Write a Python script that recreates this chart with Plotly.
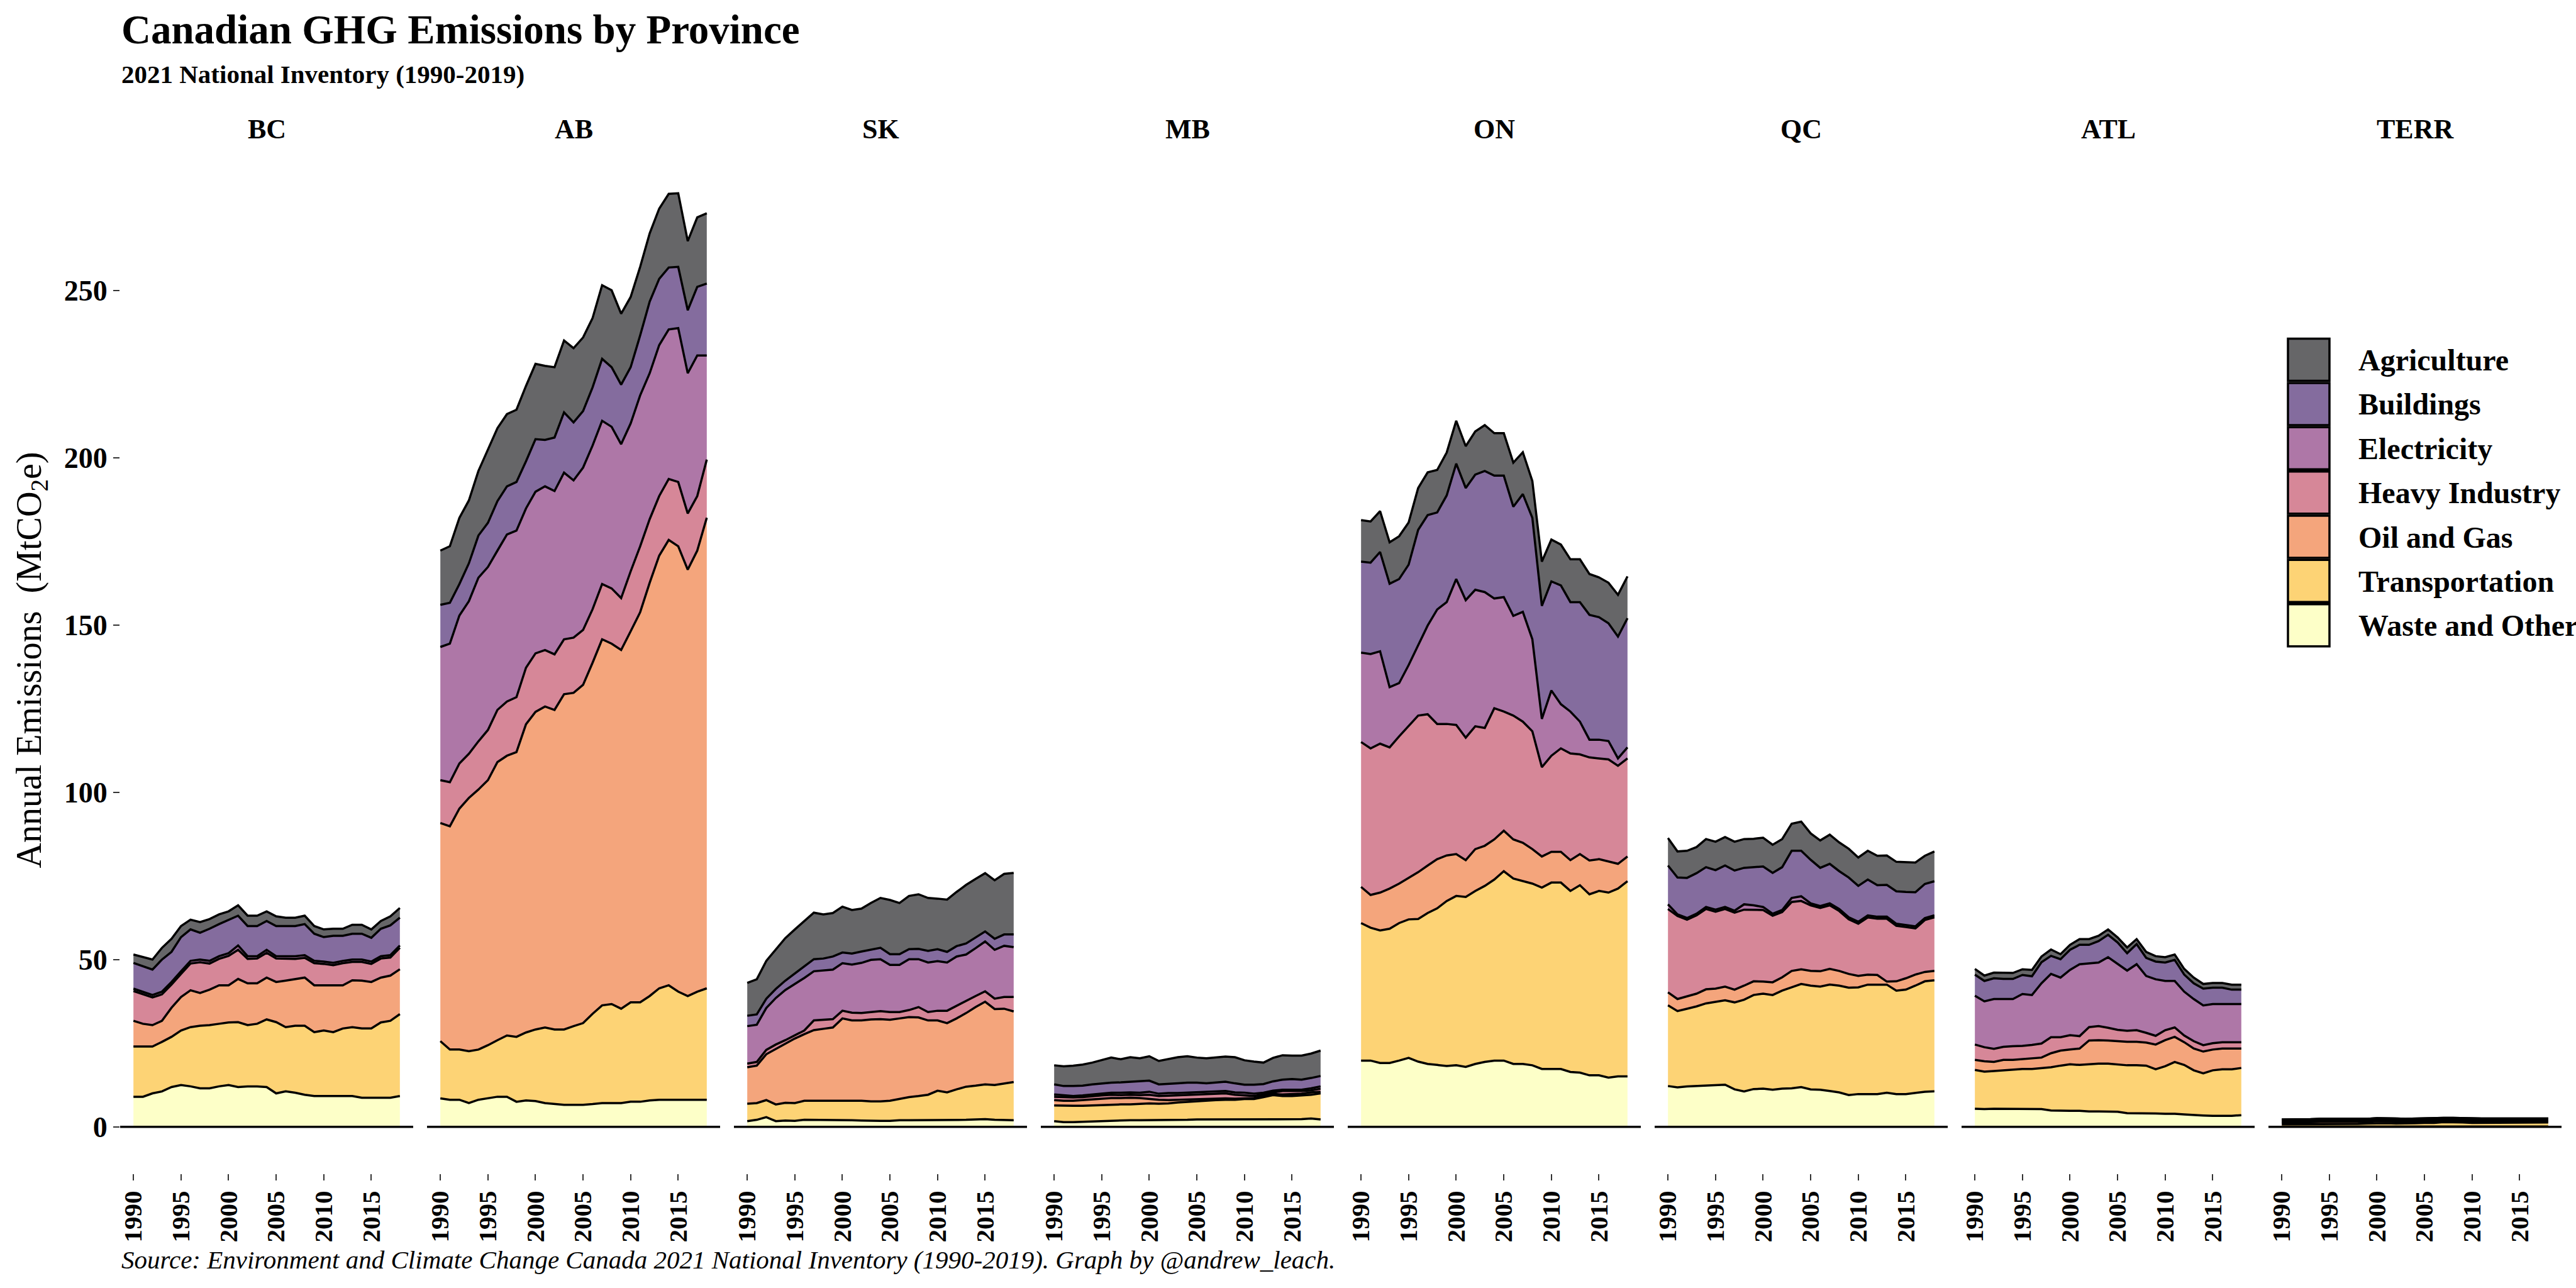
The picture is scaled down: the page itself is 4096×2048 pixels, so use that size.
import numpy as np
import plotly.graph_objects as go
from plotly.subplots import make_subplots

# ---------------- data (stack boundaries, Mt CO2e) ----------------
YEARS = list(range(1990, 2019))
PROVINCES = ["BC", "AB", "SK", "MB", "ON", "QC", "ATL", "TERR"]
SECTORS = ["Waste and Other", "Transportation", "Oil and Gas", "Heavy Industry",
           "Electricity", "Buildings", "Agriculture"]          # bottom -> top
COLORS = ["#FDFFC8", "#FDD375", "#F4A57C", "#D68798", "#AE77A7", "#846C9E", "#666668"]
LEGEND_ORDER = ["Agriculture", "Buildings", "Electricity", "Heavy Industry",
                "Oil and Gas", "Transportation", "Waste and Other"]
Y_TICKS = [0, 50, 100, 150, 200, 250]
X_TICKS = [1990, 1995, 2000, 2005, 2010, 2015]

# cumulative tops of each stacked layer
BC_WASTE = [9.0, 9.0, 10.0, 10.6, 11.9, 12.5, 12.1, 11.5, 11.5, 12.1,
            12.5, 11.9, 12.1, 12.1, 11.9, 10.0, 10.6, 10.2, 9.6, 9.2,
            9.2, 9.2, 9.2, 9.2, 8.7, 8.7, 8.7, 8.7, 9.2]
BC_TRANSPORT = [24.0, 24.0, 24.0, 25.4, 26.9, 28.8, 29.8, 30.2, 30.4, 30.8,
                31.2, 31.3, 30.4, 30.8, 32.1, 31.3, 29.8, 30.2, 30.2, 28.3,
                28.8, 28.3, 29.4, 29.8, 29.4, 29.4, 31.2, 31.7, 33.7]
BC_OIL = [31.7, 30.8, 30.4, 31.7, 35.6, 38.8, 40.8, 40.0, 41.0, 42.3,
          42.3, 44.2, 42.9, 42.9, 44.6, 43.3, 43.7, 44.2, 44.6, 42.3,
          42.3, 42.3, 42.3, 43.8, 43.7, 43.3, 44.6, 45.2, 47.1]
BC_HEAVY = [40.6, 39.7, 38.7, 39.6, 42.5, 45.7, 48.8, 49.2, 48.8, 50.2,
            51.1, 52.9, 50.2, 50.3, 52.0, 50.3, 50.2, 50.2, 50.5, 48.9,
            48.7, 48.3, 48.9, 49.3, 49.3, 48.7, 50.3, 50.6, 53.5]
BC_ELEC = [41.3, 40.4, 39.4, 40.4, 43.3, 46.5, 49.6, 50.0, 49.6, 51.0,
           51.9, 54.2, 51.0, 51.0, 52.9, 51.0, 51.0, 51.0, 51.3, 49.6,
           49.4, 49.0, 49.6, 50.0, 50.0, 49.4, 51.0, 51.3, 54.2]
BC_BUILD = [49.0, 48.0, 47.0, 50.0, 52.3, 56.7, 59.0, 58.0, 59.2, 60.6,
            61.9, 63.1, 60.0, 60.0, 61.5, 60.0, 60.0, 60.0, 60.6, 57.7,
            56.7, 57.1, 57.1, 57.7, 57.7, 56.5, 59.2, 60.2, 62.5]
BC_AGRI = [51.5, 50.8, 50.0, 53.5, 56.2, 60.0, 61.9, 61.2, 62.1, 63.5,
           64.4, 66.2, 63.1, 63.1, 64.4, 62.9, 62.5, 62.5, 63.1, 60.0,
           59.0, 59.2, 59.2, 60.4, 60.4, 59.0, 61.5, 62.9, 65.4]

AB_WASTE = [8.5, 8.1, 8.1, 7.1, 8.1, 8.6, 9.0, 9.0, 7.5, 7.9,
            7.7, 7.1, 6.8, 6.6, 6.6, 6.6, 6.8, 7.1, 7.1, 7.1,
            7.5, 7.5, 7.9, 8.1, 8.1, 8.1, 8.1, 8.1, 8.1]
AB_TRANSPORT = [25.6, 23.1, 23.1, 22.6, 23.1, 24.4, 25.9, 27.3, 26.9, 28.2,
                29.1, 29.7, 29.1, 29.1, 30.1, 31.0, 33.8, 36.3, 36.7, 35.3,
                37.2, 37.2, 39.1, 41.4, 42.3, 40.4, 39.1, 40.4, 41.4]
AB_OIL = [90.8, 89.8, 95.1, 98.3, 100.8, 103.6, 109.0, 110.9, 112.0, 120.3,
          124.0, 125.6, 124.6, 129.3, 129.7, 132.1, 138.7, 145.7, 144.4, 142.5,
          148.1, 153.8, 162.6, 170.7, 175.4, 173.5, 166.5, 172.2, 182.0]
AB_HEAVY = [103.6, 103.0, 108.6, 111.5, 115.2, 118.6, 124.6, 127.1, 128.4, 137.2,
            141.5, 142.5, 141.2, 145.7, 146.2, 148.5, 154.7, 162.2, 160.9, 158.0,
            166.0, 173.5, 181.6, 188.5, 193.6, 192.7, 183.3, 188.5, 199.4]
AB_ELEC = [143.4, 144.4, 152.8, 157.1, 164.1, 167.3, 172.2, 177.0, 178.2, 184.8,
           189.8, 191.4, 190.0, 195.5, 193.2, 197.0, 203.6, 211.0, 209.2, 204.0,
           210.2, 218.6, 225.2, 233.6, 238.3, 238.7, 225.2, 230.5, 230.5]
AB_BUILD = [156.0, 156.6, 162.2, 168.4, 176.7, 180.5, 187.0, 191.4, 192.7, 198.9,
            205.5, 205.3, 206.0, 213.5, 210.5, 213.9, 221.0, 229.5, 227.0, 221.8,
            227.0, 236.5, 246.6, 253.4, 256.8, 257.0, 244.0, 251.0, 252.0]
AB_AGRI = [172.2, 173.5, 182.0, 187.2, 196.0, 202.6, 208.8, 213.0, 214.3, 221.4,
           228.0, 227.4, 227.0, 235.0, 232.7, 235.9, 241.7, 251.5, 250.0, 243.0,
           248.0, 257.0, 267.0, 274.4, 278.8, 279.0, 264.7, 271.8, 273.0]

SK_WASTE = [1.7, 2.1, 2.9, 1.7, 1.9, 1.8, 2.1, 2.1, 2.1, 2.1,
            2.0, 2.0, 1.9, 1.8, 1.8, 1.8, 2.0, 2.0, 2.0, 2.0,
            2.0, 2.0, 2.0, 2.1, 2.2, 2.3, 2.1, 2.0, 2.0]
SK_TRANSPORT = [6.9, 7.1, 8.0, 6.7, 7.2, 7.1, 7.8, 7.8, 7.8, 7.8,
                7.8, 7.8, 7.8, 7.6, 7.6, 7.8, 8.4, 8.9, 9.2, 9.6,
                10.8, 10.3, 11.2, 12.0, 12.3, 12.7, 12.5, 13.0, 13.4]
SK_OIL = [17.8, 18.3, 21.7, 23.3, 24.9, 26.4, 27.7, 28.9, 29.3, 29.7,
          32.4, 31.8, 31.8, 32.1, 32.2, 32.0, 32.4, 32.8, 32.7, 31.8,
          31.8, 31.0, 32.4, 34.0, 35.8, 37.4, 35.2, 35.3, 34.5]
SK_HEAVY = [18.9, 19.4, 23.0, 24.6, 25.9, 27.4, 28.8, 31.8, 32.0, 32.2,
            34.7, 34.1, 34.0, 34.3, 34.6, 34.3, 34.3, 34.9, 35.8, 34.3,
            34.7, 34.7, 36.2, 37.7, 39.1, 40.5, 38.3, 38.8, 38.8]
SK_ELEC = [30.1, 30.5, 35.5, 38.5, 40.9, 42.7, 44.5, 46.5, 46.8, 47.0,
           48.9, 48.5, 49.0, 49.9, 50.1, 48.4, 48.4, 50.1, 50.1, 49.1,
           49.5, 49.1, 50.9, 51.5, 53.4, 55.4, 52.9, 54.1, 53.7]
SK_BUILD = [33.2, 33.6, 38.3, 41.2, 43.7, 45.9, 48.1, 50.1, 50.3, 50.9,
            52.1, 51.8, 52.4, 52.9, 53.5, 51.6, 51.6, 53.1, 53.2, 52.6,
            53.1, 52.3, 54.0, 54.8, 56.6, 58.4, 56.2, 57.5, 57.5]
SK_AGRI = [43.0, 44.1, 49.6, 53.1, 56.4, 59.0, 61.5, 64.0, 63.5, 63.9,
           65.8, 64.8, 65.2, 66.9, 68.4, 67.8, 66.9, 69.0, 69.5, 68.4,
           68.2, 67.9, 70.2, 72.3, 74.1, 75.8, 73.7, 75.6, 75.9]

MB_WASTE = [1.7, 1.4, 1.4, 1.5, 1.7, 1.8, 1.8, 1.9, 2.0, 2.0,
            2.0, 2.0, 2.1, 2.1, 2.1, 2.2, 2.2, 2.2, 2.3, 2.3,
            2.3, 2.3, 2.2, 2.2, 2.3, 2.3, 2.3, 2.5, 2.2]
MB_TRANSPORT = [6.4, 6.3, 6.3, 6.3, 6.4, 6.6, 6.7, 6.7, 6.7, 6.9,
                7.0, 6.9, 7.0, 7.3, 7.5, 7.6, 7.8, 8.0, 8.1, 8.1,
                8.3, 8.3, 8.9, 9.5, 9.2, 9.2, 9.4, 9.6, 10.0]
MB_OIL = [8.0, 7.8, 7.8, 8.0, 8.3, 8.4, 8.6, 8.6, 8.7, 8.6,
          8.3, 8.1, 8.0, 8.1, 8.2, 8.3, 8.4, 8.5, 8.5, 8.4,
          8.5, 8.6, 9.2, 9.8, 9.7, 9.8, 9.9, 10.3, 10.5]
MB_HEAVY = [9.0, 8.9, 8.8, 8.9, 9.2, 9.4, 9.6, 9.5, 9.6, 9.5,
            9.6, 9.2, 9.3, 9.4, 9.5, 9.6, 9.8, 9.8, 10.0, 9.6,
            9.4, 9.2, 9.7, 10.3, 10.7, 10.7, 10.7, 10.9, 11.4]
MB_ELEC = [9.7, 9.4, 9.2, 9.4, 9.7, 9.9, 10.2, 10.2, 10.3, 10.2,
           10.5, 9.9, 10.1, 10.1, 10.2, 10.3, 10.5, 10.5, 10.7, 10.3,
           10.2, 9.9, 10.2, 10.8, 11.1, 11.1, 11.1, 11.5, 12.1]
MB_BUILD = [12.7, 12.2, 12.2, 12.3, 12.7, 13.0, 13.2, 13.3, 13.5, 13.6,
            13.8, 12.7, 12.8, 13.0, 13.2, 13.2, 13.0, 13.2, 13.5, 13.0,
            12.6, 12.6, 12.8, 13.6, 14.1, 14.3, 14.1, 14.6, 15.2]
MB_AGRI = [18.4, 18.1, 18.3, 18.6, 19.2, 19.9, 20.7, 20.2, 20.8, 20.5,
           21.1, 19.7, 20.3, 20.8, 21.1, 20.7, 20.5, 20.8, 21.0, 20.8,
           19.9, 19.5, 19.2, 20.6, 21.4, 21.3, 21.3, 21.9, 22.8]

ON_WASTE = [19.8, 19.8, 19.1, 19.1, 19.8, 20.6, 19.5, 18.8, 18.5, 18.2,
            18.4, 17.9, 18.8, 19.4, 19.8, 19.8, 18.8, 18.8, 18.4, 17.3,
            17.3, 17.3, 16.4, 16.2, 15.4, 15.4, 14.7, 15.1, 15.1]
ON_TRANSPORT = [60.9, 59.5, 58.7, 59.2, 60.9, 62.0, 62.1, 63.9, 65.3, 67.5,
                69.0, 68.7, 70.5, 72.0, 73.9, 76.4, 74.2, 73.4, 72.7, 71.5,
                73.0, 73.0, 70.5, 72.2, 69.5, 70.5, 70.0, 71.2, 73.4]
ON_OIL = [71.7, 69.3, 70.0, 71.2, 72.7, 74.4, 76.1, 78.1, 80.0, 81.1,
          81.5, 79.7, 83.0, 84.0, 85.9, 88.5, 85.9, 84.9, 83.0, 80.8,
          82.2, 82.2, 79.7, 81.5, 79.6, 80.0, 79.3, 78.6, 80.8]
ON_HEAVY = [115.0, 113.1, 114.5, 113.4, 116.7, 119.7, 122.9, 123.3, 120.4, 120.4,
            120.1, 116.3, 119.7, 119.2, 125.1, 124.1, 122.9, 121.1, 118.2, 107.5,
            110.9, 113.1, 111.6, 111.3, 110.4, 110.1, 109.8, 107.9, 110.1]
ON_ELEC = [141.7, 141.3, 142.1, 131.4, 132.6, 138.0, 143.9, 149.8, 154.6, 156.8,
           163.7, 157.4, 160.5, 159.8, 157.9, 158.3, 152.7, 153.9, 145.7, 121.9,
           130.4, 126.3, 124.1, 121.1, 115.7, 115.7, 115.3, 110.1, 113.4]
ON_BUILD = [168.9, 168.6, 171.8, 162.3, 163.7, 168.0, 178.4, 182.8, 183.6, 188.7,
            198.2, 190.9, 194.9, 196.0, 194.6, 194.6, 185.3, 189.1, 182.0, 155.7,
            163.0, 161.8, 156.8, 156.8, 153.0, 152.3, 150.5, 146.5, 152.0]
ON_AGRI = [181.3, 180.9, 184.0, 174.7, 176.5, 180.6, 190.9, 195.6, 196.3, 201.5,
           211.0, 203.4, 207.8, 209.7, 207.3, 207.3, 198.5, 201.6, 193.0, 168.9,
           175.5, 174.0, 169.6, 169.6, 165.2, 164.2, 162.6, 159.0, 164.5]

QC_WASTE = [12.2, 11.8, 12.1, 12.2, 12.4, 12.5, 12.6, 11.2, 10.6, 11.3,
            11.4, 11.1, 11.4, 11.5, 11.9, 11.2, 11.1, 10.7, 10.3, 9.5,
            9.8, 9.8, 9.8, 10.2, 9.8, 9.8, 10.2, 10.5, 10.6]
QC_TRANSPORT = [36.3, 34.6, 35.3, 36.0, 36.9, 37.3, 37.8, 37.2, 38.0, 39.4,
                39.8, 39.4, 40.7, 41.7, 42.7, 42.2, 41.9, 42.5, 42.2, 41.6,
                41.7, 42.5, 42.5, 42.5, 40.7, 41.0, 42.2, 43.5, 43.8]
QC_OIL = [40.2, 38.2, 39.0, 39.8, 41.1, 41.3, 41.9, 41.0, 42.2, 43.5,
          43.4, 43.2, 44.7, 46.6, 47.1, 46.6, 46.5, 47.2, 46.6, 45.7,
          45.1, 45.5, 45.4, 43.4, 43.5, 44.4, 45.5, 46.3, 46.6]
QC_HEAVY = [65.1, 63.0, 61.9, 63.2, 65.1, 64.3, 65.1, 64.0, 64.9, 64.8,
            64.8, 63.1, 64.2, 67.2, 67.5, 66.2, 65.4, 66.2, 64.5, 62.0,
            60.7, 62.6, 62.2, 62.2, 60.1, 59.7, 59.3, 61.8, 62.6]
QC_ELEC = [66.5, 63.5, 62.4, 63.7, 65.7, 64.9, 65.7, 64.6, 66.5, 66.2,
           65.7, 63.7, 64.8, 68.4, 68.9, 66.8, 66.0, 66.8, 65.1, 62.6,
           61.3, 63.2, 62.8, 62.8, 60.7, 60.3, 59.9, 62.4, 63.2]
QC_BUILD = [78.1, 74.5, 74.4, 75.8, 77.6, 76.7, 78.1, 76.6, 77.4, 77.6,
            77.8, 75.9, 77.6, 82.5, 82.5, 79.8, 77.4, 78.6, 76.4, 74.5,
            72.0, 73.9, 72.2, 72.3, 70.4, 70.2, 70.1, 72.6, 73.4]
QC_AGRI = [86.3, 82.3, 82.5, 83.6, 86.0, 85.2, 86.6, 85.2, 86.0, 86.1,
           86.4, 84.3, 86.0, 90.6, 91.2, 87.7, 85.6, 87.3, 85.0, 83.1,
           80.5, 82.5, 81.0, 81.1, 79.2, 79.1, 79.0, 81.0, 82.3]

ATL_WASTE = [5.4, 5.3, 5.4, 5.4, 5.4, 5.4, 5.4, 5.3, 4.9, 4.8,
             4.8, 4.8, 4.6, 4.6, 4.6, 4.5, 4.1, 4.1, 4.1, 4.0,
             3.9, 3.9, 3.7, 3.5, 3.4, 3.3, 3.3, 3.3, 3.5]
ATL_TRANSPORT = [17.0, 16.5, 16.7, 16.9, 17.2, 17.3, 17.3, 17.5, 17.8, 18.3,
                 18.7, 18.5, 18.7, 18.9, 18.9, 18.7, 18.4, 18.4, 18.3, 17.2,
                 18.1, 19.4, 18.5, 16.9, 16.0, 16.9, 17.2, 17.2, 17.6]
ATL_OIL = [20.0, 19.6, 19.4, 20.0, 20.0, 20.2, 20.4, 20.7, 22.0, 22.8,
           23.1, 23.4, 25.8, 25.9, 25.8, 25.6, 25.4, 25.4, 25.2, 24.6,
           25.9, 26.9, 25.3, 23.4, 22.5, 23.1, 23.4, 23.4, 23.4]
ATL_HEAVY = [24.6, 23.8, 23.3, 23.9, 24.1, 24.2, 24.5, 24.9, 26.8, 26.8,
             27.4, 27.1, 29.8, 30.1, 29.6, 29.0, 28.7, 28.9, 28.1, 27.2,
             28.9, 29.7, 27.3, 25.6, 24.4, 25.0, 25.3, 25.3, 25.3]
ATL_ELEC = [39.2, 37.5, 38.2, 38.2, 38.2, 39.7, 39.4, 42.9, 45.7, 44.6,
            46.9, 48.6, 48.8, 49.1, 50.7, 48.6, 46.7, 48.6, 45.1, 44.1,
            43.6, 43.6, 40.4, 38.2, 36.3, 36.7, 36.7, 36.7, 36.7]
ATL_BUILD = [45.5, 43.6, 44.4, 44.2, 44.2, 45.4, 45.0, 49.2, 51.1, 50.1,
             52.9, 54.4, 54.4, 55.5, 57.4, 55.1, 51.9, 54.6, 50.5, 49.4,
             49.1, 49.9, 45.5, 42.9, 41.3, 41.6, 41.6, 41.0, 41.0]
ATL_AGRI = [47.2, 45.2, 46.1, 46.0, 46.0, 47.1, 46.9, 50.9, 53.0, 51.6,
            54.4, 56.1, 56.1, 57.1, 59.0, 56.6, 53.6, 56.1, 52.3, 51.0,
            50.7, 51.5, 47.2, 44.6, 42.7, 43.0, 43.0, 42.5, 42.5]

TERR_WASTE = [0.1, 0.1, 0.1, 0.1, 0.1, 0.1, 0.1, 0.1, 0.1, 0.1,
              0.1, 0.1, 0.1, 0.1, 0.1, 0.1, 0.1, 0.1, 0.1, 0.1,
              0.1, 0.1, 0.1, 0.1, 0.1, 0.1, 0.1, 0.1, 0.1]
TERR_TRANSPORT = [0.8, 0.8, 0.8, 0.8, 0.9, 0.9, 0.9, 0.9, 0.9, 1.0,
                  1.1, 1.1, 1.0, 1.0, 1.1, 1.2, 1.2, 1.4, 1.4, 1.3,
                  1.2, 1.2, 1.2, 1.2, 1.2, 1.2, 1.2, 1.2, 1.3]
TERR_OIL = [1.3, 1.3, 1.4, 1.4, 1.5, 1.5, 1.5, 1.4, 1.4, 1.5,
            1.7, 1.7, 1.6, 1.5, 1.6, 1.7, 1.7, 1.8, 1.8, 1.7,
            1.6, 1.6, 1.6, 1.6, 1.5, 1.5, 1.5, 1.5, 1.6]
TERR_HEAVY = [1.4, 1.4, 1.5, 1.5, 1.6, 1.6, 1.6, 1.5, 1.5, 1.6,
              1.8, 1.8, 1.7, 1.6, 1.7, 1.8, 1.8, 1.9, 1.9, 1.8,
              1.7, 1.7, 1.7, 1.7, 1.6, 1.6, 1.6, 1.6, 1.7]
TERR_ELEC = [1.7, 1.7, 1.8, 1.8, 1.9, 1.9, 1.9, 1.8, 1.8, 1.9,
             2.1, 2.1, 2.0, 1.9, 2.0, 2.1, 2.1, 2.2, 2.2, 2.1,
             2.0, 2.0, 2.0, 2.0, 1.9, 1.9, 1.9, 1.9, 2.0]
TERR_BUILD = [2.18, 2.18, 2.28, 2.28, 2.38, 2.38, 2.38, 2.28, 2.28, 2.38,
              2.58, 2.58, 2.48, 2.38, 2.48, 2.58, 2.58, 2.68, 2.68, 2.58,
              2.48, 2.48, 2.48, 2.48, 2.38, 2.38, 2.38, 2.38, 2.48]
TERR_AGRI = [2.2, 2.2, 2.3, 2.3, 2.4, 2.4, 2.4, 2.3, 2.3, 2.4,
             2.6, 2.6, 2.5, 2.4, 2.5, 2.6, 2.6, 2.7, 2.7, 2.6,
             2.5, 2.5, 2.5, 2.5, 2.4, 2.4, 2.4, 2.4, 2.5]

STACKS = {
    "BC": [BC_WASTE, BC_TRANSPORT, BC_OIL, BC_HEAVY, BC_ELEC, BC_BUILD, BC_AGRI],
    "AB": [AB_WASTE, AB_TRANSPORT, AB_OIL, AB_HEAVY, AB_ELEC, AB_BUILD, AB_AGRI],
    "SK": [SK_WASTE, SK_TRANSPORT, SK_OIL, SK_HEAVY, SK_ELEC, SK_BUILD, SK_AGRI],
    "MB": [MB_WASTE, MB_TRANSPORT, MB_OIL, MB_HEAVY, MB_ELEC, MB_BUILD, MB_AGRI],
    "ON": [ON_WASTE, ON_TRANSPORT, ON_OIL, ON_HEAVY, ON_ELEC, ON_BUILD, ON_AGRI],
    "QC": [QC_WASTE, QC_TRANSPORT, QC_OIL, QC_HEAVY, QC_ELEC, QC_BUILD, QC_AGRI],
    "ATL": [ATL_WASTE, ATL_TRANSPORT, ATL_OIL, ATL_HEAVY, ATL_ELEC, ATL_BUILD, ATL_AGRI],
    "TERR": [TERR_WASTE, TERR_TRANSPORT, TERR_OIL, TERR_HEAVY, TERR_ELEC, TERR_BUILD, TERR_AGRI],
}

# ---------------- layout geometry ----------------
W, H = 4096, 2048
ML, MR, MT, MBOT = 191, 23, 233, 182
PW, PH = W - ML - MR, H - MT - MBOT
FONT = "Liberation Serif, Times New Roman, serif"


def px_x(px):
    return (px - ML) / PW


def px_y(py):
    return (H - MBOT - py) / PH


fig = make_subplots(rows=1, cols=len(PROVINCES), shared_yaxes=True,
                    horizontal_spacing=22 / PW)

for ci, prov in enumerate(PROVINCES):
    tops = np.array(STACKS[prov], dtype=float)
    vals = np.diff(np.vstack([np.zeros(tops.shape[1]), tops]), axis=0)
    vals = np.clip(vals, 0, None)
    for si, sector in enumerate(SECTORS):
        fig.add_trace(
            go.Scatter(x=YEARS, y=vals[si], mode="lines", stackgroup=f"g{ci}",
                       line=dict(color="black", width=3.5, shape="linear"),
                       fillcolor=COLORS[si], name=sector, showlegend=False,
                       hoveron="points"),
            row=1, col=ci + 1)

fig.update_xaxes(range=[1988.6, 2019.4], tickmode="array", tickvals=X_TICKS,
                 tickangle=-90, ticks="outside", ticklen=10, tickwidth=2,
                 tickcolor="#333333", showgrid=False, zeroline=False, showline=False,
                 tickfont=dict(family=FONT, size=41, color="black", weight="bold"))
fig.update_yaxes(range=[-13.95, 292.95], tickmode="array", tickvals=Y_TICKS,
                 showgrid=False, zeroline=False, showline=False)
fig.update_yaxes(ticks="outside", ticklen=10, tickwidth=2, tickcolor="#333333",
                 tickfont=dict(family=FONT, size=46, color="black", weight="bold"),
                 row=1, col=1)

shapes = []
annotations = []
for ci, prov in enumerate(PROVINCES):
    xa = "x" if ci == 0 else f"x{ci + 1}"
    ya = "y" if ci == 0 else f"y{ci + 1}"
    shapes.append(dict(type="line", xref=f"{xa} domain", yref=ya, x0=0, x1=1,
                       y0=0, y1=0, line=dict(color="black", width=3.5), layer="above"))
    annotations.append(dict(text=f"<b>{prov}</b>", xref=f"{xa} domain", x=0.5,
                            yref="paper", y=px_y(206), xanchor="center", yanchor="middle",
                            showarrow=False, font=dict(family=FONT, size=44, color="black")))

# legend (drawn in the TERR panel area, as in the original)
for li, sector in enumerate(LEGEND_ORDER):
    top = 538.6 + 70.35 * li
    shapes.append(dict(type="rect", xref="paper", yref="paper",
                       x0=px_x(3638), x1=px_x(3704), y0=px_y(top + 67), y1=px_y(top),
                       fillcolor=COLORS[SECTORS.index(sector)],
                       line=dict(color="black", width=3.5), layer="above"))
    annotations.append(dict(text=f"<b>{sector}</b>", xref="paper", x=px_x(3748),
                            yref="paper", y=px_y(top + 34), xanchor="left", yanchor="middle",
                            showarrow=False, font=dict(family=FONT, size=48, color="black")))

annotations += [
    dict(text="<b>Canadian GHG Emissions by Province</b>", xref="paper", x=px_x(191),
         yref="paper", y=px_y(47), xanchor="left", yanchor="middle", showarrow=False,
         font=dict(family=FONT, size=65, color="black")),
    dict(text="<b>2021 National Inventory (1990-2019)</b>", xref="paper", x=px_x(191),
         yref="paper", y=px_y(118), xanchor="left", yanchor="middle", showarrow=False,
         font=dict(family=FONT, size=41, color="black")),
    dict(text="<i>Source: Environment and Climate Change Canada 2021 National Inventory "
              "(1990-2019). Graph by @andrew_leach.</i>",
         xref="paper", x=px_x(191), yref="paper", y=px_y(2003), xanchor="left",
         yanchor="middle", showarrow=False, font=dict(family=FONT, size=41, color="black")),
    dict(text="Annual Emissions  (MtCO<sub>2</sub>e)", xref="paper", x=px_x(49),
         yref="paper", y=0.5, xanchor="center", yanchor="middle", textangle=-90,
         showarrow=False, font=dict(family=FONT, size=56, color="black")),
]

fig.update_layout(
    width=W, height=H, margin=dict(l=ML, r=MR, t=MT, b=MBOT, pad=0),
    paper_bgcolor="white", plot_bgcolor="white", showlegend=False,
    font=dict(family=FONT, color="black"),
    shapes=shapes, annotations=annotations,
)

fig.write_html("out.html", config={"displayModeBar": False},
               post_script="document.body.style.margin='0';")
